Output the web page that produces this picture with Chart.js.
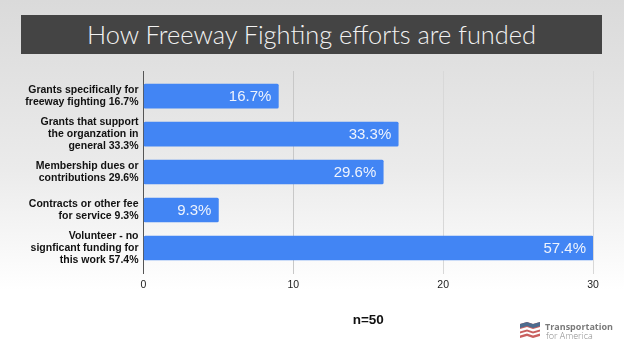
<!DOCTYPE html>
<html>
<head>
<meta charset="utf-8">
<script src="https://cdn.jsdelivr.net/npm/chart.js@4"></script>
<style>
  html, body { margin: 0; padding: 0; }
  body { width: 624px; height: 352px; overflow: hidden; position: relative;
         background: linear-gradient(to bottom, #dadada 0, #ebebeb 170px, #ffffff 290px); }
  #wrap { position: absolute; left: 0; top: 0; width: 624px; height: 352px; }
  #title { position: absolute; left: 21px; top: 15px; width: 581px; height: 39px; background: #444444; color: #f2f2f2;
           font: 300 25.4px/39px Lato, sans-serif; text-align: center; }
  #logo { position: absolute; left: 519px; top: 321px; width: 96px; height: 22px; }
  #logo svg { position: absolute; left: 0; top: 0; }
  #logo .a { position: absolute; left: 26px; top: 0; font: bold 9px/11px "Open Sans", sans-serif; color: #7a7a7a; }
  #logo .b { position: absolute; left: 27px; top: 9px; font: 300 9px/11px "Open Sans", sans-serif; color: #8a8a8a; }
</style>
</head>
<body>
<div id="wrap"><canvas id="myChart" width="624" height="352"></canvas></div>
<div id="title">How Freeway Fighting efforts are funded</div>
<div id="logo">
  <svg width="22" height="20" viewBox="0 0 22 20">
    <path d="M1 3 L8 1 L14 3 L21 1 L21 15 L14 17 L8 15 L1 17 Z" fill="#c9605f"/>
    <path d="M1 8 L8 6 L14 8 L21 6 L21 8.5 L14 10.5 L8 8.5 L1 10.5 Z" fill="#ffffff"/>
    <path d="M1 12.5 L8 10.5 L14 12.5 L21 10.5 L21 12.5 L14 14.5 L8 12.5 L1 14.5 Z" fill="#ffffff"/>
    <path d="M1 3 L8 1 L14 3 L21 1 L21 5 L14 7 L8 5 L1 7 Z" fill="#4d6c8f"/>
  </svg>
  <div class="a">Transportation</div>
  <div class="b">for America</div>
</div>
<script>
const categories = [
    ['Grants specifically for', 'freeway fighting 16.7%'],
    ['Grants that support', 'the organzation in', 'general 33.3%'],
    ['Membership dues or', 'contributions 29.6%'],
    ['Contracts or other fee', 'for service 9.3%'],
    ['Volunteer - no', 'signficant funding for', 'this work 57.4%'],
];
const counts = [9, 17, 16, 5, 30];
const percentLabels = ['16.7%', '33.3%', '29.6%', '9.3%', '57.4%'];
const xTicks = [0, 10, 20, 30];

// white percent text inside the end of each bar
const barLabels = {
    id: 'barLabels',
    afterDatasetsDraw(chart) {
        const ctx = chart.ctx;
        ctx.save();
        ctx.fillStyle = '#eef3fd';
        ctx.font = '15px "Liberation Sans", sans-serif';
        ctx.textAlign = 'right';
        ctx.textBaseline = 'middle';
        chart.getDatasetMeta(0).data.forEach((bar, i) => {
            ctx.fillText(percentLabels[i], bar.x - 7, bar.y + 1);
        });
        ctx.restore();
    },
};

new Chart(document.getElementById('myChart'), {
    type: 'bar',
    data: {
        datasets: [{
            data: counts.map((v, i) => ({ x: v, y: i })),
            backgroundColor: '#4285f4',
            borderRadius: 1.5,
            borderSkipped: false,
            barThickness: 24,
        }],
    },
    plugins: [barLabels],
    options: {
        indexAxis: 'y',
        responsive: false,
        animation: false,
        layout: { padding: { top: 71, right: 31, bottom: 24, left: 0 } },
        plugins: { legend: { display: false }, tooltip: { enabled: false } },
        scales: {
            x: {
                min: 0,
                max: 30,
                afterBuildTicks: (axis) => { axis.ticks = xTicks.map((v) => ({ value: v })); },
                grid: {
                    color: (c) => (c.tick && c.tick.value === 0 ? '#555555' : c.tick && c.tick.value === 10 ? '#c8c8c8' : '#d8d8d8'),
                    drawTicks: false,
                },
                border: { display: false },
                ticks: {
                    color: '#222222',
                    padding: 5,
                    font: { family: '"Liberation Sans", sans-serif', size: 10.5 },
                },
                title: {
                    display: true,
                    text: 'n=50',
                    color: '#111111',
                    font: { family: '"Liberation Sans", sans-serif', size: 13.5, weight: 'bold' },
                    padding: { top: 15, bottom: 0 },
                },
            },
            y: {
                type: 'linear',
                reverse: true,
                offset: false,
                min: -0.66,
                max: 4.69,
                afterBuildTicks: (axis) => { axis.ticks = categories.map((c, i) => ({ value: i })); },
                afterFit: (axis) => { axis.width = 143.5; },
                grid: { display: false, drawTicks: false },
                border: { display: false },
                ticks: {
                    autoSkip: false,
                    color: '#111111',
                    padding: 5,
                    font: { family: '"Liberation Sans", sans-serif', size: 10.5, weight: 'bold', lineHeight: 1.17 },
                    callback: (value) => categories[value],
                },
            },
        },
    },
});
</script>
</body>
</html>
